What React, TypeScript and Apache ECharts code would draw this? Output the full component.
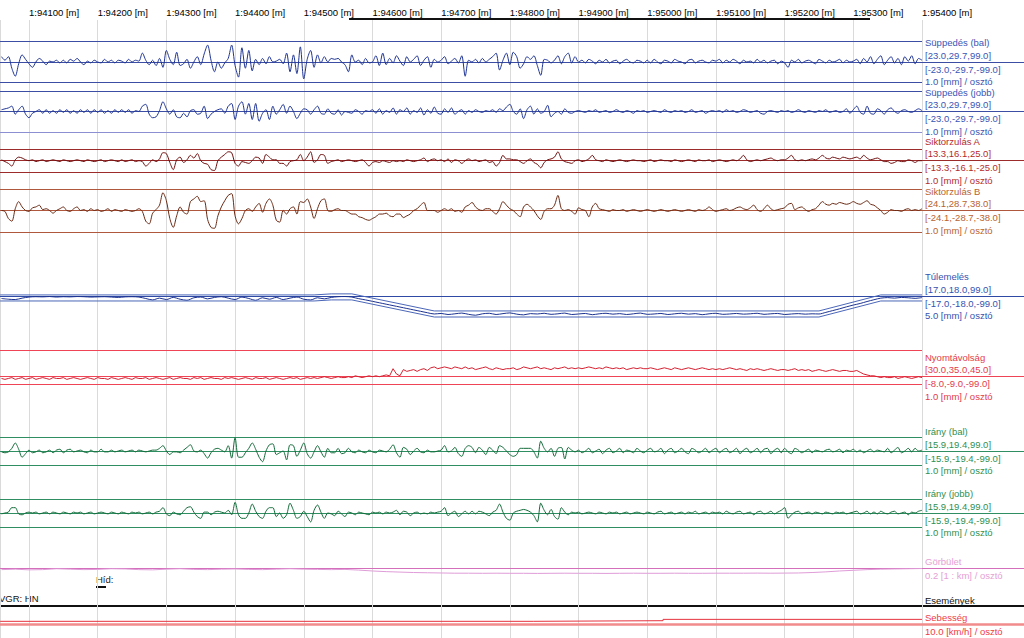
import React, { useEffect, useRef } from "react";
import * as echarts from "echarts";

// ---------- data (distance in m, values in track units) ----------
const START_M = 94060;
const STEP_FINE = 5; // m between samples of the fine traces
const STEP_CANT = 10;
const STEP_CURV = 20;

const SUPP_LIM = [23.0, 29.7, 99.0];
const SIK_A_LIM = [13.3, 16.1, 25.0];
const SIK_B_LIM = [24.1, 28.7, 38.0];
const TULEM_LIM = [17.0, 18.0, 99.0];
const NYOM_UP = [30.0, 35.0, 45.0];
const NYOM_LOW = [8.0, 9.0, 99.0];
const IRANY_LIM = [15.9, 19.4, 99.0];

const SUPP_BAL = [
  6, 2, 6, -7, -16, -2, 8, 3,
  -2, -6, 0, 4, 1, -3, 1, 0, 2, -1, 2, -1, 3, 1, 4, 0, -3, 1, -1, 2,
  0, -1, 3, 0, 2, -1, 2, 1, -1, 3, 0, 2, 1, 10, 2, -3, 2, -4, 4, -6,
  13, 3, -3, 11, -4, -2, 3, -7, 0, 6, -3, 9, 19, 2, -11, 0, -7, -1, 4, 19,
  -4, -17, 16, -7, 13, -10, 3, -3, 4, -2, 6, 0, 1, 3, -2, 10, -11, 8, -13, 17,
  -19, 3, 13, -6, 8, -1, 6, 0, 4, 3, 4, 0, -3, -11, 8, 0, 2, -3, 4, -1,
  0, 7, -4, 10, -3, 4, -1, 7, 1, -4, 6, 0, 3, 7, -4, 2, 6, -6, 3, 0,
  2, 6, -2, 1, 4, -1, 7, -16, 2, 0, 3, -1, 4, 0, 3, 6, 10, -9, 2, 10,
  -3, 11, 6, -7, -2, 6, 3, 7, -4, -15, 3, 2, -1, 2, 7, -2, 6, 10, -1, 6,
  0, 2, -1, 3, 1, -2, 2, 0, 3, -1, 1, 2, -2, 1, 3, 0, -1, 2, 1, -1,
  2, -1, 3, 0, -2, 2, 1, -1, 3, 1, 0, -2, 2, 3, -1, 1, 2, 0, -1, 2,
  1, 3, -1, 2, 0, 3, 1, -2, 2, 0, 1, -1, 3, 0, 2, -1, 1, 2, -2, 1,
  -1, -6, 2, 0, 3, -1, 1, 2, 0, -2, 3, 1, -1, 2, 0, 1, 3, -1, 2, 0,
  1, 3, -2, 4, 0, 6, -2, 3, 7, -3, 2, 6, -1, 4, -3, 6, 1, 7, -2, 4,
  2,
];

const SUPP_JOBB = [
  2, 3, 4, 6, -3, 2, 6, -3,
  -7, -2, 0, 2, -2, 2, -2, 1, -2, 2, -1, 2, -2, 1, -2, 2, -1, 2, -2, 2,
  -1, 2, -2, 1, -2, 2, -1, 2, -1, 2, -2, 1, 0, 6, 8, -3, -7, -6, 1, 11,
  3, -3, 2, -6, -7, -2, -6, 1, 2, -3, -2, 6, -8, -3, 0, 2, 3, -2, 6, 9,
  -9, 6, 11, -3, 9, -9, 9, -11, -2, 2, -9, 6, -3, 2, 8, -2, 6, 0, -8, -2,
  3, 2, -3, 2, 6, -2, -3, 3, -2, -3, 2, -4, 0, -1, -2, 2, 0, -3, 1, 0,
  2, -2, 3, -3, 1, -1, 4, -3, 2, 0, 4, -3, 1, -1, 4, -4, 2, -2, 5, -2,
  -3, 3, -1, 4, -3, 0, 2, -3, 1, -1, 2, 0, -1, 1, 0, 2, -1, 3, 1, 5,
  8, 0, -3, 3, -8, 2, 6, -3, 3, -2, 0, 7, -6, -2, 0, -3, 3, -1, -2, 0,
  1, 0, -1, 1, 0, 2, -1, 0, 1, -1, 0, 2, 0, -1, 1, 0, -2, 1, 0, 1,
  -1, 0, 1, 0, -1, 2, 0, -1, 1, 0, 1, -1, 0, 2, -1, 0, 1, -2, 0, 1,
  0, 1, -1, 2, 0, 1, -1, 0, 2, 1, -1, 0, 1, -2, -3, 0, 1, 0, -1, 1,
  0, 1, -1, 0, 2, 0, -1, 1, 0, -1, 1, 0, 2, -1, 0, 1, -1, 0, 3, -2,
  2, 6, -1, -3, 6, -2, -3, 3, 1, -3, 2, 4, 0, -2, 1, 2, 0, -1, 1, 3,
  1,
];

const SIK_A = [
  1, -1, -3, -6, 1, 4, 3, 1,
  0, 1, -1, 0, 1, -1, 0, 1, 0, -1, 1, 0, -1, 0, 1, 0, -1, 1, 0, -1,
  0, 1, -1, 0, 1, 0, -1, 1, -1, 0, 1, -1, 0, -1, -6, -3, 1, -1, 2, 9,
  8, -2, -10, 1, 4, -2, 1, 6, 3, 8, 0, -3, -4, -10, -11, 0, 4, 7, 10, 9,
  -3, -6, -1, -2, -3, 0, 4, 3, -3, 7, 4, 1, 1, -3, -3, -6, -1, 0, 1, 7,
  0, 4, 10, -2, 1, 7, 6, -3, -1, 0, 1, -1, 0, 1, 0, -1, 0, 1, -2, -6,
  -2, -1, -2, 0, -1, -2, 0, -1, 0, -1, 1, 0, -1, 0, 1, 3, -1, 1, 2, 0,
  1, -1, 2, -2, 1, 0, -3, 0, 2, 0, 1, -1, 0, 1, -2, -1, -6, -2, 6, 2,
  2, 1, 1, -1, -3, 0, 2, -2, -4, -8, -2, 1, 2, 4, 10, 2, -1, -2, -3, 0,
  1, -1, 0, 2, 6, 1, 0, -1, 1, 0, -1, 0, 1, 0, -1, 0, 1, 0, 0, -1,
  0, 1, -1, 0, 1, 0, 0, -1, 1, 0, -1, 0, 1, 0, -1, 1, 0, 0, 1, -1,
  0, 1, 0, -1, 0, 1, 0, 2, 6, 1, -1, 0, 1, 0, 1, 2, 3, 1, 0, 1,
  1, 3, 6, 1, 0, 1, 0, 1, 2, 1, 3, 6, 3, 2, 4, 3, 2, 4, 3, 2,
  3, 4, 2, 6, 3, 1, 2, 3, 1, -1, -1, -3, -2, 0, -1, -1, 1, 0, -2, 0,
  0,
];

const SIK_B = [
  0, -1, -9, -12, 2, 10, 4, 0,
  -1, 3, 4, 6, 1, 2, 0, -3, 0, 2, 4, 0, -1, 2, 4, 0, 1, -1, 2, 0,
  1, -1, 0, 2, -1, 1, 0, -1, 1, 0, -1, 0, 2, -1, -12, -15, -3, 1, 6, 20,
  11, -9, -19, -6, 4, -2, -4, 10, 13, 16, 10, 11, -10, -19, -20, -6, 4, 11, 17, 19,
  -6, -15, -9, 0, 2, -1, 4, 8, -2, 8, 13, 6, -11, -13, 0, -4, 2, 4, -4, 10,
  9, 13, 4, -9, 2, 11, 13, 0, -1, 1, 2, 0, 0, -2, -4, -4, -7, -8, -10, -11,
  -9, -7, -4, -4, -3, -6, -7, -4, -4, -8, -6, -4, 0, 2, 6, 9, 0, 0, 0, -2,
  0, 2, 0, 2, -1, 0, -2, 4, 6, 9, 4, 1, 0, 2, 2, -1, -4, 2, 10, 6,
  2, 0, -4, -7, 4, 7, 4, 0, -6, -10, -1, 2, 2, 6, 17, 2, 0, 1, -1, -4,
  3, 1, 0, -7, 4, 8, 2, 1, 0, -1, 1, 0, 0, 1, -1, 0, 1, 0, -1, 0,
  1, 0, -1, 0, 1, 0, -1, 0, 1, 0, -1, 0, 1, 0, -1, 1, 0, 1, 4, 1,
  -1, 0, 1, 2, 0, 1, 3, 4, 2, 1, 3, 6, 1, -1, 2, 6, 2, 0, 1, 2,
  3, 7, 8, 1, 3, 4, 1, -1, 1, 2, 6, 10, 7, 6, 8, 7, 9, 8, 7, 8,
  10, 8, 7, 9, 11, 7, 6, 3, 0, -4, -2, 1, 0, 0, -1, 1, 2, 0, 1, 0,
  2,
];

const TULEM_MEAS = [
  -14, -18, -20, -12, -6, -4, -5, -3, -6, -4,
  -5, -3, -4, -6, -5, -4, -6, -8, -5, -4,
  -6, -14, -22, -12, -20, -8, -18, -24, -10, -6,
  -16, -8, -4, -12, -20, -6, -14, -24, -10, -18,
  -8, -20, -12, -6, -18, -22, -10, -16, -8, -4,
  -3, -6, -15, -22, -30, -38, -46, -54, -62, -70,
  -78, -86, -94, -101, -98, -104, -100, -96, -103, -108,
  -100, -97, -104, -99, -95, -102, -106, -99, -101, -97,
  -103, -100, -96, -104, -101, -98, -105, -100, -97, -102,
  -99, -104, -100, -96, -103, -101, -98, -104, -100, -97,
  -102, -99, -105, -100, -97, -103, -101, -98, -102, -100,
  -97, -103, -100, -98, -104, -101, -99, -102, -100, -101,
  -92, -82, -72, -61, -51, -42, -31, -21, -12, -9,
  -12, -8, -10, -13, -9,
];
const TULEM_DESIGN_DIST = [94058, 94515, 94540, 94570, 94690, 95250, 95340, 95400];
const TULEM_DESIGN = [-11, -11, -5, -5, -101, -101, -11, -11];

const NYOM = [
  -2, -3, -2, -1, -3, -2, -1, -3,
  -2, -1, -3, -2, -1, -2, -3, -1, -2, -2, -1, -3, -2, -1, -2, -3, -2, -1, -2, -3,
  -1, -2, -2, -3, -1, -2, -3, -2, -1, -2, -3, -1, -2, -2, -1, -3, -2, -1, -2, -3,
  -2, -1, -3, -2, -1, -2, -2, -3, -1, -2, -1, -3, -2, -1, -2, -2, -3, -1, -2, -1,
  -2, -3, -2, -1, -2, -3, -1, -2, -2, -1, -3, -2, -1, -2, -3, -2, -1, -2, -1, -3,
  -2, -1, -2, -1, -2, -1, 0, -1, -2, -1, 0, -1, -1, 0, -1, 1, 0, -1, 0, 1,
  0, 1, 0, 1, 2, 1, 9, 3, 1, 8, 6, 7, 8, 6, 8, 9, 7, 10, 11, 9,
  10, 11, 10, 9, 11, 10, 9, 11, 9, 10, 8, 9, 10, 11, 9, 8, 10, 9, 8, 9,
  9, 10, 8, 9, 11, 10, 9, 10, 11, 9, 10, 9, 8, 10, 9, 10, 11, 9, 10, 9,
  10, 9, 10, 11, 10, 9, 10, 9, 11, 10, 9, 10, 9, 10, 8, 9, 10, 9, 10, 9,
  9, 10, 9, 8, 9, 10, 9, 8, 10, 9, 8, 9, 10, 9, 8, 9, 10, 9, 8, 9,
  8, 9, 8, 9, 10, 9, 8, 9, 8, 7, 9, 8, 9, 8, 7, 8, 9, 8, 7, 8,
  8, 7, 8, 9, 7, 8, 7, 8, 6, 7, 8, 7, 6, 7, 8, 7, 6, 7, 7, 6,
  6, 7, 5, 3, 2, 1, 1, 0, -1, 0, -1, -1, 0, -2, -1, 0, -1, -2, -1, 0,
  -1,
];

const IRANY_BAL = [
  -1, -2, -1, 3, 9, 2, -7, -3,
  1, -2, -1, 1, -2, -1, 1, -2, 1, 2, -2, 1, 2, -1, 0, 1, -1, -2, 1, -1,
  -1, 2, -1, -1, 1, -1, 0, 1, -1, 0, 1, -1, 1, 0, -1, 0, 1, 1, 3, 6,
  0, -4, -1, -1, -2, 1, 4, 7, 0, -1, 1, -3, -8, -2, 2, 3, 1, -1, 6, -8,
  15, -7, -7, -2, 3, 9, 2, -7, -12, 0, 7, 8, -4, -2, 0, -10, 7, 6, -6, 1,
  9, -3, -8, -1, 6, -1, -7, 3, -2, -2, 3, -3, -2, 3, -1, -2, 1, -1, -2, 1,
  -1, -2, 1, 0, -1, 2, 7, -2, -7, 4, 2, -4, 0, 3, -1, -2, 1, -1, -1, 0,
  1, 6, -1, 0, 4, -3, -6, 3, 6, 4, -2, 4, 1, -4, 4, 1, -3, 6, 4, 0,
  -4, -6, -4, 3, 3, 3, 3, -1, -8, 11, 3, -1, 3, -6, 3, 4, -9, 4, 1, -1,
  1, -2, 0, 3, -2, 0, 2, -3, 1, 3, -2, 0, 3, -2, 1, 0, -2, 3, 0, -2,
  1, 3, -1, 0, 3, -3, 1, 3, -2, 0, 3, -1, -3, 3, 1, -2, 0, 3, -2, 1,
  3, -2, 1, 3, -2, 0, 3, -3, 1, 3, -2, 0, 3, -2, 2, 3, -3, 1, 3, -2,
  3, -1, -3, 3, 1, -2, 0, 2, -2, 1, 0, -1, 1, 2, -1, 0, 2, -2, 1, 0,
  2, -1, 1, -2, 0, 2, -1, 1, 0, -1, 3, -2, 1, 4, -2, 0, 3, -1, 3, 0,
  1,
];

const IRANY_JOBB = [
  -1, 0, 1, 6, 6, -1, -2, 0,
  1, 0, 1, -1, 0, 1, -1, 1, 0, -1, 1, 0, -1, 1, 0, 1, -1, 0, 1, -1,
  0, 1, 0, -1, 1, 0, -1, 1, 0, -1, 1, 0, 1, -1, 0, 1, -1, 1, 2, 6,
  -1, -3, 1, -1, -2, 2, 6, 7, 1, -4, -6, 1, 1, -2, 1, 2, 1, 0, 3, -2,
  12, -2, -6, -6, 0, 10, 2, -4, -6, 2, 6, 6, -4, 0, -6, -2, 11, 3, -6, -4,
  2, -4, -10, 3, 9, 1, -6, 0, -1, -3, 2, -1, -4, 1, 0, -2, 1, 0, -1, -2,
  1, 0, 1, -1, 1, 0, 1, 3, -2, 2, 1, -3, 0, 1, -1, 0, -1, 1, 0, 1,
  2, 6, -3, 0, 2, -4, -1, 2, -1, 2, -1, 2, 1, -1, -3, 1, 3, 10, 1, -6,
  -8, 0, 2, 3, 4, 3, 1, -3, -10, 11, 3, -2, 4, -4, -7, 6, 1, -2, 1, 0,
  1, -1, 0, 1, 0, -1, 1, 0, -1, 1, 0, 1, -1, 0, 1, -1, 0, 1, 0, -1,
  1, 0, -1, 1, 2, -1, 0, 1, -1, 0, 1, -1, 1, 0, 2, -1, 0, 1, -1, 1,
  0, 1, -1, 2, 0, -1, 1, 2, -1, 0, 1, -2, 1, 2, -1, 0, 2, -1, 1, 3,
  6, -6, -2, 1, 2, -1, 0, 1, -1, 1, 0, -1, 1, 0, -1, 1, 0, 1, -1, 0,
  1, 2, -1, 0, 2, -1, 1, -1, 2, 0, -1, 1, 2, -1, 0, 1, -2, 1, 0, 2,
  3,
];

const GORB = [
  -0.3, -0.2, -0.35, -0.3, -0.1, -0.2, -0.3, -0.25, -0.1, -0.15, -0.3, -0.35, -0.2, -0.1, -0.25, -0.3, -0.2, -0.15,
  -0.25, -0.3, -0.2, -0.1, -0.2, -0.25, -0.3, -0.25,
  -0.4, -0.6, -0.75, -0.85, -0.95, -1.0, -1.05,
  -1.1, -1.1, -1.12, -1.1, -1.12,
  -1.12, -1.15, -1.12, -1.1, -1.12, -1.12, -1.15, -1.12, -1.1, -1.12, -1.12, -1.1, -1.12, -1.12, -1.1,
  -1.1, -1.1, -1.08, -1.1, -1.08, -1.05, -0.95, -0.8, -0.6, -0.45, -0.3, -0.2, -0.15, -0.1, -0.05,
];

const SPEED_DIST = [94058, 94834, 95023, 95400];
const SPEED = [38, 45, 60, 60];

const BRIDGE_LABEL = "Híd:";
const LINE_LABEL = "VGR: HN";

// ---------- layout ----------
const W = 1024;
const H = 638;
const PLOT_W = 922;
const VIEW_MIN = 94057.8;
const VIEW_MAX = 95400;
const VIEW_FULL_MAX = VIEW_MIN + ((VIEW_MAX - VIEW_MIN) * W) / PLOT_W;
const PX_PER_DIV = 0.89;
const FONT = '"Liberation Sans", Arial, sans-serif';
const FS = 9.5;
const LABEL_X = 925;
const SMOOTH = 0.3;

const fmtLim = (l: number[], neg: boolean) =>
  "[" + l.map((v) => (neg ? -v : v).toFixed(1)).join(",") + "]";

const fine = (vals: number[]) => vals.map((v, i) => [START_M + i * STEP_FINE, v]);

type SeriesDef = { data: number[][]; color: string; width?: number; step?: string; smooth?: number };
type Track = {
  title: string;
  scale: string;
  upper?: number[];
  lower?: number[];
  perDiv: number;
  zeroY: number;
  yMin: number;
  yMax: number;
  lineColor: string;
  lowerColor?: string;
  zeroColor?: string;
  zeroWidth?: number;
  textColor: string;
  titleColor?: string;
  limitLabels: boolean;
  drawLimits: boolean;
  series: SeriesDef[];
};

const TRACKS: Track[] = [
  {
    title: "Süppedés (bal)", scale: "1.0 [mm] / osztó", upper: SUPP_LIM, lower: SUPP_LIM,
    perDiv: 1, zeroY: 62, yMin: -30, yMax: 30, lineColor: "#3c4ea3", textColor: "#3b55b4",
    limitLabels: true, drawLimits: true, series: [{ data: fine(SUPP_BAL), color: "#1f3494", smooth: SMOOTH }],
  },
  {
    title: "Süppedés (jobb)", scale: "1.0 [mm] / osztó", upper: SUPP_LIM, lower: SUPP_LIM,
    perDiv: 1, zeroY: 111.5, yMin: -30, yMax: 30, lineColor: "#3c4ea3", lowerColor: "#8c90d2",
    textColor: "#3b55b4", limitLabels: true, drawLimits: true,
    series: [{ data: fine(SUPP_JOBB), color: "#1f3494", smooth: SMOOTH }],
  },
  {
    title: "Siktorzulás A", scale: "1.0 [mm] / osztó", upper: SIK_A_LIM, lower: SIK_A_LIM,
    perDiv: 1, zeroY: 160.7, yMin: -20, yMax: 20, lineColor: "#9c2b2b", textColor: "#b42c2c",
    limitLabels: true, drawLimits: true, series: [{ data: fine(SIK_A), color: "#6e0f0f", smooth: SMOOTH }],
  },
  {
    title: "Siktorzulás B", scale: "1.0 [mm] / osztó", upper: SIK_B_LIM, lower: SIK_B_LIM,
    perDiv: 1, zeroY: 210.5, yMin: -30, yMax: 30, lineColor: "#b0583e", textColor: "#b9632e",
    limitLabels: true, drawLimits: true, series: [{ data: fine(SIK_B), color: "#6a2a14", smooth: SMOOTH }],
  },
  {
    title: "Túlemelés", scale: "5.0 [mm] / osztó", upper: TULEM_LIM, lower: TULEM_LIM,
    perDiv: 5, zeroY: 296, yMin: -150, yMax: 150, lineColor: "#2f4aa5", textColor: "#3552b0",
    limitLabels: true, drawLimits: false,
    series: [
      { data: TULEM_MEAS.map((v, j) => [START_M + j * STEP_CANT, v]), color: "#1c3290", smooth: SMOOTH },
      { data: TULEM_DESIGN_DIST.map((d, i) => [d, TULEM_DESIGN[i] + TULEM_LIM[0]]), color: "#4a66b8" },
      { data: TULEM_DESIGN_DIST.map((d, i) => [d, TULEM_DESIGN[i] - TULEM_LIM[0]]), color: "#4a66b8" },
    ],
  },
  {
    title: "Nyomtávolság", scale: "1.0 [mm] / osztó", upper: NYOM_UP, lower: NYOM_LOW,
    perDiv: 1, zeroY: 376.7, yMin: -40, yMax: 40, lineColor: "#ee4455", textColor: "#e33b4b",
    limitLabels: true, drawLimits: true, series: [{ data: fine(NYOM), color: "#d42030" }],
  },
  {
    title: "Irány (bal)", scale: "1.0 [mm] / osztó", upper: IRANY_LIM, lower: IRANY_LIM,
    perDiv: 1, zeroY: 451, yMin: -25, yMax: 25, lineColor: "#2f8f62", textColor: "#2f9050",
    limitLabels: true, drawLimits: true, series: [{ data: fine(IRANY_BAL), color: "#146b3a", smooth: SMOOTH }],
  },
  {
    title: "Irány (jobb)", scale: "1.0 [mm] / osztó", upper: IRANY_LIM, lower: IRANY_LIM,
    perDiv: 1, zeroY: 513, yMin: -25, yMax: 25, lineColor: "#2f8f62", textColor: "#2f9050",
    limitLabels: true, drawLimits: true, series: [{ data: fine(IRANY_JOBB), color: "#146b3a", smooth: SMOOTH }],
  },
  {
    title: "Görbület", scale: "0.2 [1 : km] / osztó", perDiv: 0.2, zeroY: 568.3, yMin: -2, yMax: 2,
    lineColor: "#d46fbb", textColor: "#e6a0d4", limitLabels: false, drawLimits: false,
    series: [{ data: GORB.map((v, k) => [START_M + k * STEP_CURV, v]), color: "#df9cd8" }],
  },
  {
    title: "Sebesség", scale: "10.0 [km/h] / osztó", perDiv: 10, zeroY: 624.7, yMin: -20, yMax: 100,
    lineColor: "#f28b8b", zeroWidth: 2.5, textColor: "#ef3b45", limitLabels: false, drawLimits: false,
    series: [{ data: SPEED_DIST.map((d, i) => [d, SPEED[i]]), color: "#e6323e", step: "end" }],
  },
];

const txt = (text: string, x: number, y: number, color: string) => ({
  type: "text",
  x,
  y,
  silent: true,
  style: {
    text,
    fill: color,
    fontSize: FS,
    fontFamily: FONT,
    align: "left",
    verticalAlign: "middle",
  },
});

function buildOption() {
  const grid: any[] = [{ left: 0, top: 20, width: PLOT_W, height: H - 20 }];
  const xAxis: any[] = [
    {
      gridIndex: 0,
      type: "value",
      position: "top",
      min: VIEW_MIN,
      max: VIEW_MAX,
      splitNumber: 13,
      minInterval: 100,
      maxInterval: 100,
      axisLine: { show: false },
      axisTick: { show: false },
      splitLine: { show: true, lineStyle: { color: "#dadada", width: 1 } },
      axisLabel: {
        show: true,
        showMinLabel: false,
        showMaxLabel: true,
        align: "left",
        margin: 3,
        color: "#000",
        fontSize: FS,
        fontFamily: FONT,
        formatter: (v: number) => `1:${v} [m]`,
      },
    },
  ];
  const yAxis: any[] = [{ gridIndex: 0, type: "value", min: 0, max: 1, show: false }];
  const series: any[] = [
    { type: "line", xAxisIndex: 0, yAxisIndex: 0, data: [], silent: true },
  ];
  const graphic: any[] = [];

  TRACKS.forEach((t, k) => {
    const gi = k + 1;
    const ppu = PX_PER_DIV / t.perDiv;
    grid.push({
      left: 0,
      top: t.zeroY - t.yMax * ppu,
      width: W,
      height: (t.yMax - t.yMin) * ppu,
    });
    xAxis.push({ gridIndex: gi, type: "value", min: VIEW_MIN, max: VIEW_FULL_MAX, show: false });
    yAxis.push({ gridIndex: gi, type: "value", min: t.yMin, max: t.yMax, show: false });

    const ml: any[] = [
      { yAxis: 0, lineStyle: { color: t.zeroColor || t.lineColor, width: t.zeroWidth || 1, type: "solid" } },
    ];
    if (t.drawLimits && t.upper) {
      ml.push([
        { coord: [VIEW_MIN, t.upper[0]], lineStyle: { color: t.lineColor, width: 1, type: "solid" } },
        { coord: [VIEW_MAX, t.upper[0]] },
      ]);
    }
    if (t.drawLimits && t.lower) {
      ml.push([
        { coord: [VIEW_MIN, -t.lower[0]], lineStyle: { color: t.lowerColor || t.lineColor, width: 1, type: "solid" } },
        { coord: [VIEW_MAX, -t.lower[0]] },
      ]);
    }

    t.series.forEach((s, si) => {
      const ser: any = {
        type: "line",
        xAxisIndex: gi,
        yAxisIndex: gi,
        data: s.data,
        symbol: "none",
        showSymbol: false,
        silent: true,
        z: 3,
        lineStyle: { color: s.color, width: s.width || 1 },
      };
      if (s.step) ser.step = s.step;
      if (s.smooth) ser.smooth = s.smooth;
      if (si === 0) {
        ser.markLine = {
          symbol: ["none", "none"],
          silent: true,
          z: 2,
          label: { show: false },
          lineStyle: { type: "solid", width: 1 },
          data: ml,
        };
      }
      series.push(ser);
    });

    if (t.limitLabels) {
      graphic.push(txt(t.title, LABEL_X, t.zeroY - 19.5, t.textColor));
      graphic.push(txt(fmtLim(t.upper || [], false), LABEL_X, t.zeroY - 7, t.textColor));
      graphic.push(txt(fmtLim(t.lower || [], true), LABEL_X, t.zeroY + 7, t.textColor));
      graphic.push(txt(t.scale, LABEL_X, t.zeroY + 19.5, t.textColor));
    } else {
      graphic.push(txt(t.title, LABEL_X, t.zeroY - 7, t.titleColor || t.textColor));
      graphic.push(txt(t.scale, LABEL_X, t.zeroY + 7, t.textColor));
    }
  });

  // top range bar
  graphic.push({
    type: "line",
    silent: true,
    shape: { x1: 349, y1: 19, x2: 870, y2: 19 },
    style: { stroke: "#111", lineWidth: 2 },
  });
  // events band
  graphic.push({
    type: "rect",
    silent: true,
    shape: { x: 0, y: 605, width: W, height: 2 },
    style: { fill: "#111" },
  });
  graphic.push(txt("Események", LABEL_X, 600, "#111"));
  graphic.push(txt(LINE_LABEL, -1, 598, "#111"));
  graphic.push(txt(BRIDGE_LABEL, 96, 579, "#222"));
  graphic.push({
    type: "rect",
    silent: true,
    shape: { x: 96, y: 586, width: 10, height: 2 },
    style: { fill: "#111" },
  });

  return {
    animation: false,
    backgroundColor: "#ffffff",
    grid,
    xAxis,
    yAxis,
    series,
    graphic,
  };
}

export default function App() {
  const ref = useRef<HTMLDivElement>(null);
  useEffect(() => {
    if (!ref.current) return;
    const chart = echarts.init(ref.current, undefined, { renderer: "svg", width: W, height: H });
    chart.setOption(buildOption() as any);
    return () => chart.dispose();
  }, []);
  return (
    <div
      ref={ref}
      style={{ position: "fixed", left: 0, top: 0, width: W, height: H, background: "#fff" }}
    />
  );
}
